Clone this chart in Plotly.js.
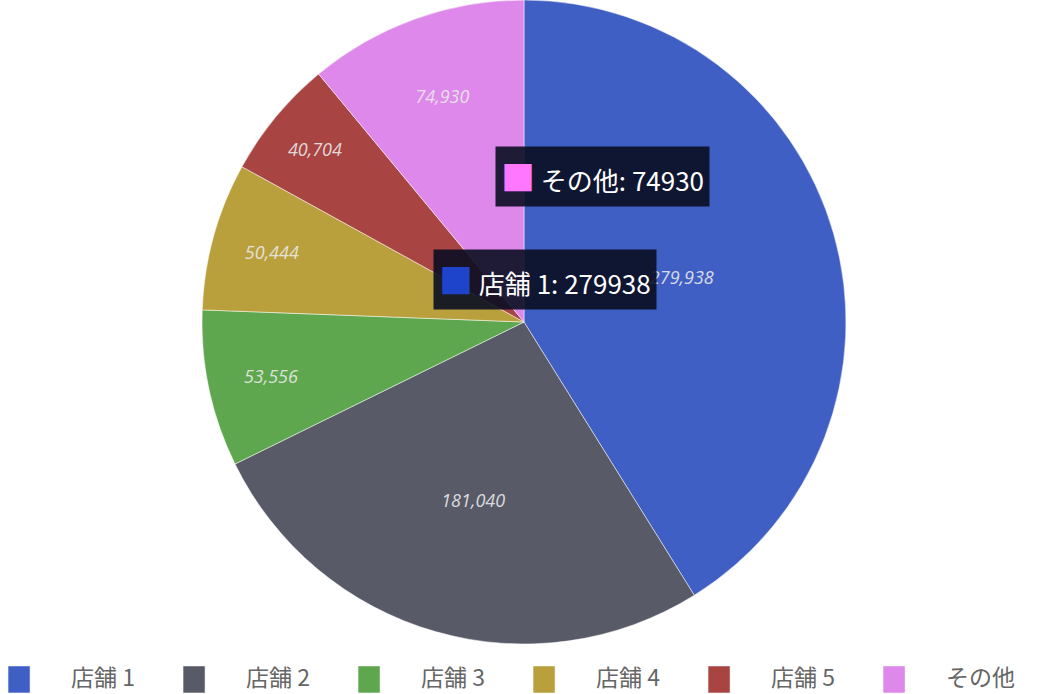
<!DOCTYPE html>
<html>
<head>
<meta charset="utf-8">
<script src="https://cdn.plot.ly/plotly-3.0.1.min.js"></script>
<style>
  html, body { margin: 0; padding: 0; background: #fff; }
  #chart { width: 1046px; height: 694px; }
</style>
</head>
<body>
<div id="chart"></div>
<script>
// store sales share
const stores = ['店舗 1', '店舗 2', '店舗 3', '店舗 4', '店舗 5', 'その他'];
const sales = [279938, 181040, 53556, 50444, 40704, 74930];
const colors = ['#405fc4', '#585a68', '#5ea74f', '#b9a03c', '#a84442', '#dd88ea'];

// hover boxes shown in the picture
const tipStores = ['その他', '店舗 1'];
const tipColors = ['#ff77ff', '#1f44cc'];

const trace = {
    type: 'pie',
    labels: stores,
    values: sales,
    sort: false,
    direction: 'clockwise',
    rotation: 0,
    marker: { colors: colors, line: { color: '#ffffff', width: 0.5 } },
    texttemplate: '%{value:,}',
    textposition: 'inside',
    insidetextorientation: 'horizontal',
    textfont: { family: 'Open Sans, sans-serif', size: 18, style: 'italic', color: 'rgba(235,235,235,0.9)' },
    hoverinfo: 'none',
    domain: { x: [0.1931, 0.8088], y: [0, 1] }
};

// plot area is 1046 x 644 (bottom 50px kept for the legend)
const tips = tipStores.map((name, i) => ({
    xref: 'paper', yref: 'paper',
    x: [602 / 1046, 545 / 1046][i],
    y: [1 - 176 / 644, 1 - 280 / 644][i],
    xanchor: 'center', yanchor: 'middle',
    showarrow: false,
    text: '<span style="color:' + tipColors[i] + ';font-size:34px">■</span> ' + name + ': ' + sales[stores.indexOf(name)],
    bgcolor: 'rgba(10,14,34,0.9)',
    borderpad: 5,
    font: { family: 'Noto Sans CJK JP, sans-serif', size: 26, color: '#ffffff' }
}));

const layout = {
    width: 1046,
    height: 694,
    paper_bgcolor: '#ffffff',
    margin: { t: 0, b: 50, l: 0, r: 0, autoexpand: false },
    showlegend: true,
    legend: {
        orientation: 'h',
        x: -0.0315, xanchor: 'left',
        y: -33 / 644, yanchor: 'middle',
        itemwidth: 94,
        entrywidth: 66,
        entrywidthmode: 'pixels',
        font: { family: 'Noto Sans CJK JP, sans-serif', size: 23, color: '#666666' },
        traceorder: 'normal'
    },
    annotations: tips
};

Plotly.newPlot('chart', [trace], layout, { displayModeBar: false, staticPlot: true }).then(() => {
    // bigger legend swatches, like the original
    document.querySelectorAll('path.legendpie').forEach(p => p.setAttribute('d', 'M11,16H-11V-11H11Z'));
});
</script>
</body>
</html>
